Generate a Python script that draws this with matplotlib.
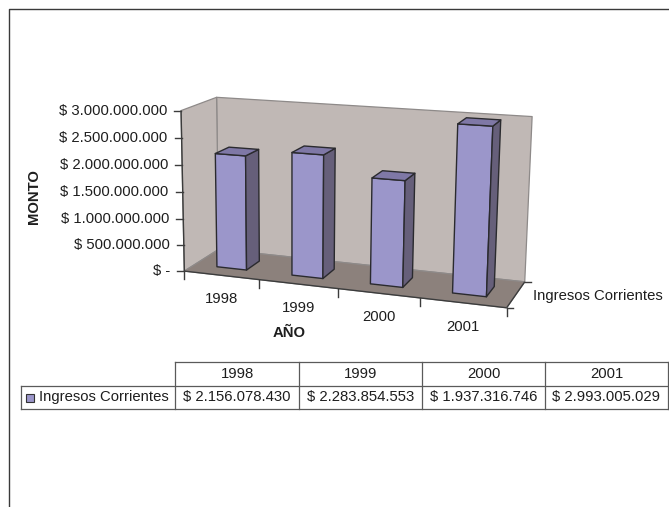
import numpy as np
import matplotlib.pyplot as plt
from matplotlib.patches import Polygon, Rectangle

plt.rcParams['font.family'] = ['Liberation Sans', 'DejaVu Sans']

# datos
anios = ['1998', '1999', '2000', '2001']
ingresos = [2156078430, 2283854553, 1937316746, 2993005029]
serie = 'Ingresos Corrientes'
ticks_monto = [0, 500000000, 1000000000, 1500000000, 2000000000, 2500000000, 3000000000]
monto_max = 3000000000

TXT = '#1e1e1e'
FS = 10.7


def pesos(v):
    if v == 0:
        return '$ -'
    return '$ ' + f'{int(v):,}'.replace(',', '.')


# caja 3D: x = categoria (0..4), h = monto normalizado (0..1), d = profundidad (0..1)
esquinas_3d = [(0, 0, 0), (4, 0, 0), (0, 0, 1), (4, 0, 1), (0, 1, 0), (0, 1, 1), (4, 1, 1)]
esquinas_px = [(185.5, 270.5), (506.5, 308.5), (217.5, 250.0), (525.0, 281.0),
               (180.0, 110.5), (217.7, 97.3), (532.0, 116.7)]


def ajustar_camara(obj, img):
    img = np.asarray(img, float)
    c, s = img.mean(axis=0), 200.0
    filas = []
    for (X, Y, Z), (u, v) in zip(obj, (img - c) / s):
        filas.append([X, Y, Z, 1, 0, 0, 0, 0, -u * X, -u * Y, -u * Z, -u])
        filas.append([0, 0, 0, 0, X, Y, Z, 1, -v * X, -v * Y, -v * Z, -v])
    _, _, vt = np.linalg.svd(np.array(filas, float))
    return vt[-1].reshape(3, 4), c, s


P, centro, escala = ajustar_camara(esquinas_3d, esquinas_px)


def proy(x, h, d):
    p = P @ np.array([x, h, d, 1.0])
    return p[:2] / p[2] * escala + centro


def cara(ax, pts, color, ec, lw, z):
    ax.add_patch(Polygon([proy(*p) for p in pts], closed=True, facecolor=color,
                         edgecolor=ec, linewidth=lw, zorder=z, joinstyle='round'))


def linea(ax, a, b, **kw):
    pa, pb = proy(*a), proy(*b)
    ax.plot([pa[0], pb[0]], [pa[1], pb[1]], solid_capstyle='butt', **kw)


fig = plt.figure(figsize=(6.69, 5.07), dpi=100)
ax = fig.add_axes([0, 0, 1, 1])
ax.set_xlim(0, 669)
ax.set_ylim(507, 0)
ax.axis('off')

# marco del grafico
ax.plot([9, 9, 669], [507, 9, 9], color='#3a3a3a', lw=1.0)

n = len(anios)
pared = '#c0b8b5'
piso = '#8c817c'
borde = '#8e8a89'

# paredes y piso
cara(ax, [(0, 0, 1), (n, 0, 1), (n, 1, 1), (0, 1, 1)], pared, borde, 0.9, 1)
cara(ax, [(0, 0, 0), (0, 0, 1), (0, 1, 1), (0, 1, 0)], pared, borde, 0.9, 1)
cara(ax, [(0, 0, 0), (n, 0, 0), (n, 0, 1), (0, 0, 1)], piso, borde, 0.9, 2)

# ejes
eje = dict(color='#3c3c3c', lw=1.0, zorder=3)
linea(ax, (0, 0, 0), (0, 1, 0), **eje)
linea(ax, (0, 0, 0), (n, 0, 0), **eje)
linea(ax, (n, 0, 0), (n, 0, 1), **eje)

for t in ticks_monto:
    u, v = proy(0, t / monto_max, 0)
    ax.plot([u - 7, u], [v, v], **eje)
    ax.text(u - 14, v, pesos(t), ha='right', va='center', fontsize=FS, color=TXT)

for i in range(n + 1):
    u, v = proy(i, 0, 0)
    ax.plot([u, u], [v, v + 8], **eje)

for i, a in enumerate(anios):
    u, v = proy(i + 0.5, 0, 0)
    ax.text(u, v + 24, a, ha='center', va='center', fontsize=FS, color=TXT)

for d in (0, 1):
    u, v = proy(n, 0, d)
    ax.plot([u, u + 6], [v, v], **eje)

u, v = proy(n, 0, 0.5)
ax.text(u + 17, v + 2, serie, ha='left', va='center', fontsize=FS, color=TXT)

# barras
frente, lado, tapa, contorno = '#9b96ca', '#665f7a', '#7f78a6', '#2a2a2e'
for i, val in enumerate(ingresos):
    x0, x1, d0, d1 = i + 0.3, i + 0.7, 0.3, 0.7
    h = val / monto_max
    cara(ax, [(x0, 0, d0), (x1, 0, d0), (x1, h, d0), (x0, h, d0)], frente, contorno, 1.0, 5)
    cara(ax, [(x1, 0, d0), (x1, 0, d1), (x1, h, d1), (x1, h, d0)], lado, contorno, 1.0, 5)
    cara(ax, [(x0, h, d0), (x1, h, d0), (x1, h, d1), (x0, h, d1)], tapa, contorno, 1.0, 5)

# titulos de ejes
ax.text(34, 197, 'MONTO', rotation=90, ha='center', va='center', fontsize=FS,
        fontweight='bold', color=TXT)
ax.text(289, 333, 'AÑO', ha='center', va='center', fontsize=FS, fontweight='bold', color=TXT)

# tabla de datos
col_x = [21, 175, 299, 422, 545, 668]
fila_y = [362, 386, 409]
tl = dict(color='#5a5a5a', lw=0.9)
ax.plot([col_x[1], col_x[-1]], [fila_y[0]] * 2, **tl)
ax.plot([col_x[0], col_x[-1]], [fila_y[1]] * 2, **tl)
ax.plot([col_x[0], col_x[-1]], [fila_y[2]] * 2, **tl)
ax.plot([col_x[0]] * 2, [fila_y[1], fila_y[2]], **tl)
for x in col_x[1:]:
    ax.plot([x, x], [fila_y[0], fila_y[2]], **tl)

yc_enc = (fila_y[0] + fila_y[1]) / 2
yc_dat = (fila_y[1] + fila_y[2]) / 2
for i, (a, val) in enumerate(zip(anios, ingresos)):
    xc = (col_x[i + 1] + col_x[i + 2]) / 2
    ax.text(xc, yc_enc, a, ha='center', va='center', fontsize=FS, color=TXT)
    ax.text(xc, yc_dat, pesos(val), ha='center', va='center', fontsize=FS, color=TXT)

ax.add_patch(Rectangle((26, yc_dat - 4), 8, 8, facecolor=frente, edgecolor='#333', lw=0.8))
ax.text(39, yc_dat, serie, ha='left', va='center', fontsize=FS, color=TXT)

fig.savefig('out.png', dpi=100)
